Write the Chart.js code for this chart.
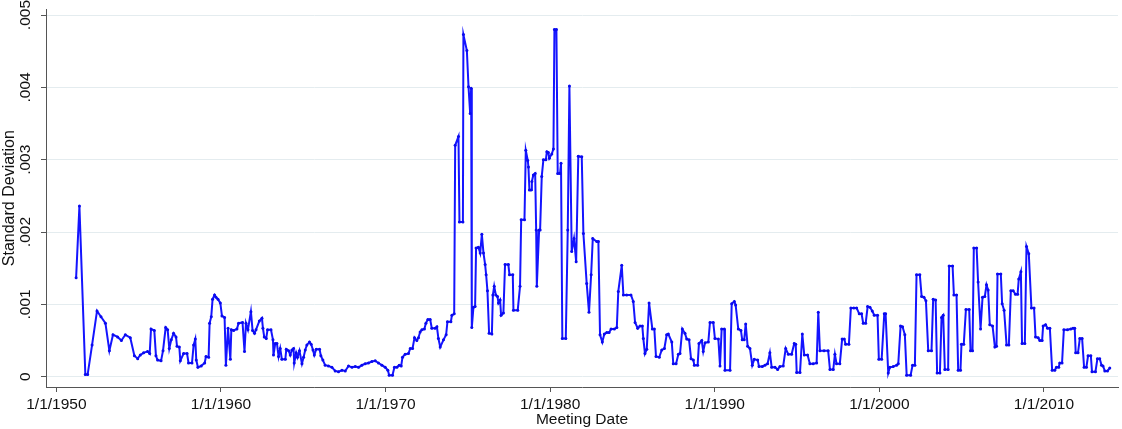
<!DOCTYPE html>
<html>
<head>
<meta charset="utf-8">
<script src="https://cdn.jsdelivr.net/npm/chart.js@4"></script>
<style>
  html, body { margin: 0; padding: 0; background: #fff; }
  #wrap { width: 1122px; height: 429px; position: relative; }
</style>
</head>
<body>
<div id="wrap"><canvas id="chart"></canvas></div>
<script>
// meeting dates as decimal years
const meetingYears = [
  1951.20, 1951.40, 1951.76, 1951.90, 1952.17, 1952.47, 1952.71, 1952.98, 1953.22, 1953.44,
  1953.72, 1953.95, 1954.19, 1954.49, 1954.74, 1954.94, 1955.10, 1955.30, 1955.54, 1955.67,
  1955.75, 1955.95, 1956.05, 1956.15, 1956.36, 1956.48, 1956.64, 1956.76, 1956.86, 1956.98,
  1957.12, 1957.27, 1957.33, 1957.47, 1957.53, 1957.73, 1957.94, 1958.03, 1958.24, 1958.34,
  1958.44, 1958.50, 1958.60, 1958.80, 1959.01, 1959.09, 1959.25, 1959.31, 1959.41, 1959.49,
  1959.61, 1959.70, 1959.82, 1959.96, 1960.06, 1960.22, 1960.30, 1960.43, 1960.57, 1960.63,
  1960.77, 1960.97, 1961.07, 1961.31, 1961.43, 1961.52, 1961.64, 1961.82, 1961.92, 1962.04,
  1962.13, 1962.33, 1962.49, 1962.55, 1962.63, 1962.75, 1962.83, 1963.04, 1963.16, 1963.19,
  1963.30, 1963.40, 1963.50, 1963.60, 1963.70, 1963.91, 1963.97, 1964.11, 1964.21, 1964.31,
  1964.41, 1964.45, 1964.57, 1964.65, 1964.77, 1964.92, 1965.02, 1965.12, 1965.22, 1965.38,
  1965.48, 1965.59, 1965.67, 1965.79, 1965.99, 1966.07, 1966.19, 1966.33, 1966.53, 1966.74,
  1966.94, 1967.14, 1967.35, 1967.55, 1967.75, 1967.96, 1968.16, 1968.36, 1968.56, 1968.76,
  1968.96, 1969.17, 1969.37, 1969.57, 1969.78, 1969.98, 1970.14, 1970.22, 1970.42, 1970.54,
  1970.69, 1970.83, 1970.95, 1971.03, 1971.19, 1971.39, 1971.50, 1971.64, 1971.76, 1971.90,
  1972.00, 1972.10, 1972.21, 1972.36, 1972.45, 1972.57, 1972.71, 1972.81, 1973.01, 1973.12,
  1973.21, 1973.32, 1973.52, 1973.68, 1973.76, 1973.97, 1974.03, 1974.17, 1974.23, 1974.43,
  1974.49, 1974.70, 1974.73, 1974.94, 1975.04, 1975.14, 1975.20, 1975.24, 1975.34, 1975.44,
  1975.50, 1975.64, 1975.75, 1975.85, 1975.95, 1976.05, 1976.11, 1976.19, 1976.29, 1976.46,
  1976.52, 1976.60, 1976.70, 1976.80, 1976.86, 1976.96, 1977.02, 1977.16, 1977.26, 1977.46,
  1977.53, 1977.73, 1977.77, 1978.03, 1978.17, 1978.24, 1978.44, 1978.52, 1978.64, 1978.68,
  1978.74, 1978.84, 1978.89, 1978.98, 1979.09, 1979.15, 1979.19, 1979.33, 1979.39, 1979.49,
  1979.59, 1979.74, 1979.80, 1979.89, 1979.95, 1980.10, 1980.20, 1980.26, 1980.38, 1980.46,
  1980.60, 1980.66, 1980.74, 1980.95, 1981.07, 1981.17, 1981.31, 1981.45, 1981.58, 1981.71,
  1981.92, 1982.02, 1982.22, 1982.36, 1982.49, 1982.59, 1982.83, 1982.93, 1983.03, 1983.17,
  1983.29, 1983.44, 1983.58, 1983.70, 1983.90, 1984.05, 1984.14, 1984.35, 1984.45, 1984.65,
  1984.91, 1985.05, 1985.16, 1985.32, 1985.46, 1985.60, 1985.66, 1985.76, 1985.87, 1986.01,
  1986.21, 1986.33, 1986.43, 1986.63, 1986.78, 1986.94, 1987.08, 1987.18, 1987.39, 1987.48,
  1987.65, 1987.79, 1987.89, 1988.03, 1988.19, 1988.30, 1988.44, 1988.56, 1988.70, 1988.76,
  1988.96, 1989.04, 1989.21, 1989.30, 1989.41, 1989.61, 1989.71, 1989.91, 1990.01, 1990.22,
  1990.32, 1990.42, 1990.58, 1990.62, 1990.93, 1991.03, 1991.19, 1991.27, 1991.43, 1991.59,
  1991.67, 1991.79, 1991.88, 1992.00, 1992.14, 1992.28, 1992.40, 1992.61, 1992.69, 1992.89,
  1993.05, 1993.21, 1993.35, 1993.46, 1993.66, 1993.82, 1993.96, 1994.16, 1994.31, 1994.47,
  1994.67, 1994.83, 1994.92, 1994.98, 1995.18, 1995.32, 1995.44, 1995.64, 1995.78, 1995.98,
  1996.19, 1996.29, 1996.39, 1996.64, 1996.89, 1997.00, 1997.20, 1997.30, 1997.40, 1997.60,
  1997.74, 1997.87, 1997.95, 1998.15, 1998.27, 1998.45, 1998.62, 1998.78, 1998.92, 1999.02,
  1999.17, 1999.29, 1999.43, 1999.57, 1999.69, 1999.89, 1999.97, 2000.14, 2000.30, 2000.38,
  2000.54, 2000.64, 2000.84, 2001.05, 2001.15, 2001.29, 2001.41, 2001.55, 2001.66, 2001.90,
  2002.02, 2002.16, 2002.26, 2002.46, 2002.57, 2002.71, 2002.83, 2002.97, 2003.17, 2003.27,
  2003.42, 2003.51, 2003.68, 2003.78, 2003.88, 2003.98, 2004.18, 2004.24, 2004.45, 2004.53,
  2004.69, 2004.79, 2004.93, 2004.99, 2005.13, 2005.26, 2005.46, 2005.54, 2005.66, 2005.74,
  2005.91, 2006.00, 2006.15, 2006.27, 2006.41, 2006.51, 2006.61, 2006.71, 2006.88, 2007.02,
  2007.12, 2007.18, 2007.38, 2007.46, 2007.58, 2007.73, 2007.87, 2007.99, 2008.13, 2008.27,
  2008.40, 2008.47, 2008.60, 2008.67, 2008.84, 2008.94, 2009.08, 2009.24, 2009.40, 2009.49,
  2009.65, 2009.75, 2009.89, 2009.95, 2010.10, 2010.22, 2010.36, 2010.50, 2010.66, 2010.76,
  2010.90, 2010.96, 2011.10, 2011.21, 2011.43, 2011.63, 2011.77, 2011.87, 2011.93, 2012.07,
  2012.18, 2012.32, 2012.44, 2012.58, 2012.68, 2012.85, 2012.92, 2013.13, 2013.25, 2013.39,
  2013.50, 2013.59, 2013.70, 2013.86, 2014.00
]

const stdDev = [
  .00137, .00236, .00003, .00003, .00044, .00091, .00083, .00074, .00036, .00058,
  .00055, .00050, .00058, .00054, .00029, .00025, .00030, .00033, .00035, .00032,
  .00066, .00064, .00029, .00023, .00022, .00036, .00068, .00065, .00039, .00051,
  .00060, .00055, .00042, .00041, .00022, .00032, .00032, .00019, .00019, .00044,
  .00052, .00023, .00013, .00015, .00019, .00028, .00027, .00074, .00083, .00107,
  .00113, .00110, .00107, .00102, .00084, .00082, .00016, .00067, .00024, .00065,
  .00064, .00066, .00074, .00075, .00035, .00074, .00065, .00090, .00064, .00060,
  .00065, .00077, .00081, .00067, .00055, .00053, .00065, .00065, .00051, .00030,
  .00046, .00046, .00028, .00039, .00024, .00024, .00038, .00036, .00030, .00037,
  .00039, .00019, .00033, .00027, .00036, .00018, .00027, .00037, .00044, .00048,
  .00045, .00037, .00030, .00038, .00038, .00029, .00023, .00016, .00015, .00013,
  .00008, .00007, .00009, .00008, .00015, .00013, .00014, .00013, .00016, .00018,
  .00019, .00021, .00022, .00019, .00016, .00013, .00009, .00002, .00002, .00013,
  .00013, .00016, .00015, .00027, .00031, .00032, .00039, .00039, .00054, .00050,
  .00054, .00062, .00065, .00066, .00074, .00079, .00079, .00067, .00067, .00069,
  .00053, .00041, .00051, .00058, .00076, .00076, .00085, .00087, .00320, .00332,
  .00214, .00214, .00473, .00451, .00401, .00364, .00399, .00068, .00096, .00097,
  .00178, .00179, .00171, .00197, .00171, .00155, .00141, .00119, .00060, .00059,
  .00113, .00125, .00113, .00111, .00102, .00106, .00085, .00088, .00155, .00155,
  .00141, .00141, .00092, .00092, .00125, .00217, .00217, .00313, .00299, .00290,
  .00258, .00258, .00270, .00279, .00281, .00203, .00125, .00203, .00203, .00277,
  .00300, .00300, .00311, .00310, .00302, .00308, .00315, .00480, .00480, .00281,
  .00281, .00295, .00053, .00053, .00203, .00402, .00173, .00191, .00159, .00305,
  .00304, .00198, .00129, .00089, .00141, .00191, .00187, .00187, .00058, .00048,
  .00059, .00061, .00061, .00066, .00066, .00068, .00118, .00154, .00113, .00113,
  .00113, .00104, .00075, .00067, .00070, .00070, .00053, .00032, .00038, .00102,
  .00066, .00066, .00028, .00027, .00037, .00039, .00058, .00059, .00048, .00018,
  .00018, .00031, .00032, .00066, .00060, .00052, .00051, .00025, .00023, .00016,
  .00016, .00046, .00050, .00035, .00047, .00048, .00075, .00075, .00053, .00052,
  .00015, .00066, .00066, .00009, .00009, .00101, .00104, .00099, .00066, .00064,
  .00051, .00051, .00073, .00042, .00039, .00016, .00024, .00023, .00014, .00014,
  .00016, .00018, .00033, .00013, .00013, .00010, .00014, .00015, .00039, .00031,
  .00031, .00046, .00045, .00006, .00006, .00059, .00030, .00030, .00018, .00018,
  .00019, .00089, .00036, .00036, .00036, .00010, .00010, .00031, .00018, .00018,
  .00052, .00052, .00045, .00045, .00095, .00095, .00095, .00087, .00087, .00074,
  .00074, .00097, .00096, .00091, .00085, .00085, .00024, .00024, .00087, .00087,
  .00005, .00013, .00014, .00016, .00018, .00070, .00069, .00058, .00002, .00002,
  .00016, .00016, .00141, .00141, .00111, .00110, .00105, .00036, .00036, .00107,
  .00106, .00005, .00005, .00082, .00085, .00010, .00010, .00153, .00153, .00113,
  .00113, .00009, .00009, .00045, .00045, .00093, .00093, .00036, .00036, .00178,
  .00178, .00131, .00066, .00110, .00111, .00127, .00120, .00072, .00070, .00041,
  .00042, .00142, .00142, .00101, .00092, .00044, .00044, .00119, .00119, .00114,
  .00114, .00135, .00145, .00046, .00046, .00180, .00170, .00095, .00095, .00055,
  .00054, .00050, .00050, .00070, .00072, .00067, .00067, .00009, .00009, .00013,
  .00013, .00019, .00019, .00065, .00065, .00066, .00067, .00067, .00033, .00033,
  .00053, .00053, .00013, .00013, .00029, .00029, .00007, .00007, .00025, .00025,
  .00016, .00015, .00008, .00008, .00012
]

const yearTicks = [1950, 1960, 1970, 1980, 1990, 2000, 2010]
const sdTicks = [0, .001, .002, .003, .004, .005]

const font = "'Liberation Sans', Arial, sans-serif"
const axisColor = "#555"

const points = meetingYears.map((yr, i) => ({ x: yr, y: stdDev[i] }))

new Chart(document.getElementById("chart"), {
  type: "line",
  data: {
    datasets: [
      {
        label: "Standard Deviation",
        data: points,
        borderColor: "#1414ff",
        backgroundColor: "#0a0aee",
        borderWidth: 2,
        pointRadius: 1.5,
        pointBorderWidth: 0,
        pointHoverRadius: 2,
        tension: 0,
        fill: false
      }
    ]
  },
  options: {
    responsive: true,
    maintainAspectRatio: false,
    animation: false,
    layout: {
      padding: { left: 0, right: 4, top: 5, bottom: 0 }
    },
    plugins: {
      legend: { display: false },
      tooltip: { enabled: false }
    },
    scales: {
      x: {
        type: "linear",
        min: 1949.37,
        max: 2014.5,
        afterBuildTicks: function(scale) {
          scale.ticks = yearTicks.map(v => ({ value: v }))
        },
        afterFit: function(scale) {
          scale.height = 42
        },
        border: { display: true, color: axisColor, width: 1 },
        grid: {
          drawOnChartArea: false,
          drawTicks: true,
          tickLength: 5,
          tickColor: axisColor
        },
        ticks: {
          autoSkip: false,
          maxRotation: 0,
          padding: 3,
          color: "#111",
          font: { family: font, size: 15.5 },
          callback: function(value) {
            return "1/1/" + value
          }
        },
        title: {
          display: true,
          text: "Meeting Date",
          color: "#111",
          padding: { top: 0, bottom: 0 },
          font: { family: font, size: 15.5 }
        }
      },
      y: {
        type: "linear",
        min: -0.000142,
        max: 0.00508,
        afterBuildTicks: function(scale) {
          scale.ticks = sdTicks.map(v => ({ value: v }))
        },
        afterFit: function(scale) {
          scale.width = 46
        },
        border: { display: true, color: axisColor, width: 1 },
        grid: {
          color: "#e4ecef",
          lineWidth: 1,
          drawTicks: true,
          tickLength: 5,
          tickColor: axisColor
        },
        ticks: {
          autoSkip: false,
          minRotation: 90,
          maxRotation: 90,
          crossAlign: "center",
          padding: 0,
          color: "#111",
          font: { family: font, size: 15.5 },
          callback: function(value) {
            if (value === 0) return "0"
            return value.toFixed(3).replace(/^0/, "")
          }
        },
        title: {
          display: true,
          text: "Standard Deviation",
          color: "#111",
          padding: { top: 0, bottom: 0 },
          font: { family: font, size: 16 }
        }
      }
    }
  }
})
</script>
</body>
</html>
